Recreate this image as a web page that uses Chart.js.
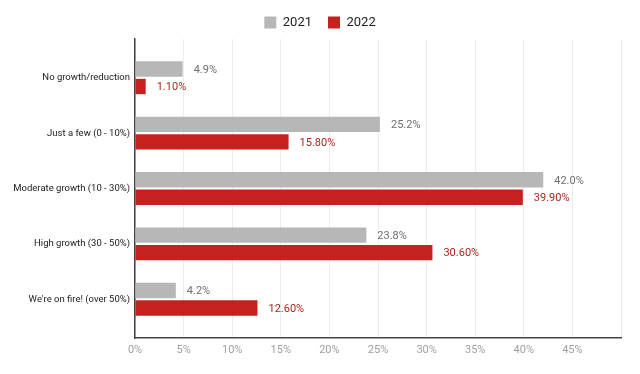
<!DOCTYPE html>
<html>
<head>
<meta charset="utf-8">
<script src="https://cdn.jsdelivr.net/npm/chart.js@4/dist/chart.umd.min.js"></script>
<style>
  html, body { margin: 0; padding: 0; background: #fff; }
  #wrap { width: 640px; height: 374px; position: relative; }
</style>
</head>
<body>
<div id="wrap"><canvas id="c"></canvas></div>
<script>
const categories = ['No growth/reduction', 'Just a few (0 - 10%)', 'Moderate growth (10 - 30%)', 'High growth (30 - 50%)', "We're on fire! (over 50%)"];
const seriesNames = ['2021', '2022'];
const values2021 = [4.9, 25.2, 42.0, 23.8, 4.2];
const values2022 = [1.1, 15.8, 39.9, 30.6, 12.6];
const labels2021 = ['4.9%', '25.2%', '42.0%', '23.8%', '4.2%'];
const labels2022 = ['1.10%', '15.80%', '39.90%', '30.60%', '12.60%'];
const xTicks = [0, 5, 10, 15, 20, 25, 30, 35, 40, 45];

const FONT = 'Roboto, "Noto Sans", Arial, sans-serif';
const GRAY = '#b7b7b7';
const RED = '#c5221f';

const valueLabels = {
  id: 'valueLabels',
  afterDatasetsDraw(chart) {
    const ctx = chart.ctx;
    const texts = [labels2021, labels2022];
    const colors = ['#6f6f6f', '#a8271f'];
    ctx.save();
    ctx.font = '11px ' + FONT;
    ctx.textBaseline = 'middle';
    ctx.textAlign = 'left';
    chart.data.datasets.forEach((ds, di) => {
      const meta = chart.getDatasetMeta(di);
      meta.data.forEach((el, i) => {
        ctx.fillStyle = colors[di];
        ctx.fillText(texts[di][i], el.x + 11, el.y + 1);
      });
    });
    ctx.restore();
  }
};

new Chart(document.getElementById('c'), {
  type: 'bar',
  data: {
    datasets: [
      {
        label: seriesNames[0],
        data: values2021.map((v, i) => ({ x: v, y: i })),
        backgroundColor: GRAY,
        borderWidth: 0,
        categoryPercentage: 0.63,
        barPercentage: 0.88
      },
      {
        label: seriesNames[1],
        data: values2022.map((v, i) => ({ x: v, y: i })),
        backgroundColor: RED,
        borderWidth: 0,
        categoryPercentage: 0.63,
        barPercentage: 0.88
      }
    ]
  },
  options: {
    indexAxis: 'y',
    responsive: true,
    maintainAspectRatio: false,
    animation: false,
    layout: { padding: 0 },
    plugins: {
      legend: {
        position: 'top',
        align: 'center',
        labels: {
          boxWidth: 12,
          boxHeight: 12,
          padding: 16,
          color: '#222',
          font: { size: 13, family: FONT }
        }
      },
      tooltip: { enabled: false }
    },
    scales: {
      x: {
        type: 'linear',
        min: 0,
        max: 50,
        afterBuildTicks: (axis) => { axis.ticks = xTicks.concat([50]).map(v => ({ value: v })); },
        afterFit: (s) => { s.height = 36; s.paddingRight = 19; },
        ticks: {
          color: '#a0a0a0',
          font: { size: 11, family: FONT },
          padding: 6,
          callback: (v) => (xTicks.includes(v) ? v + '%' : '')
        },
        grid: { color: '#ececec', drawTicks: false, lineWidth: 1 },
        border: { color: '#444', width: 1.5 }
      },
      y: {
        type: 'linear',
        reverse: true,
        offset: false,
        min: -0.7,
        max: categories.length - 0.3,
        afterBuildTicks: (axis) => { axis.ticks = categories.map((_, i) => ({ value: i })); },
        afterFit: (s) => { s.width = 135; },
        ticks: {
          color: '#222',
          font: { size: 9.5, family: FONT },
          padding: 5,
          callback: (v) => categories[v] ?? ''
        },
        grid: { display: false, drawTicks: false, offset: false },
        border: { color: '#444', width: 1.5 }
      }
    }
  },
  plugins: [valueLabels]
});
</script>
</body>
</html>
